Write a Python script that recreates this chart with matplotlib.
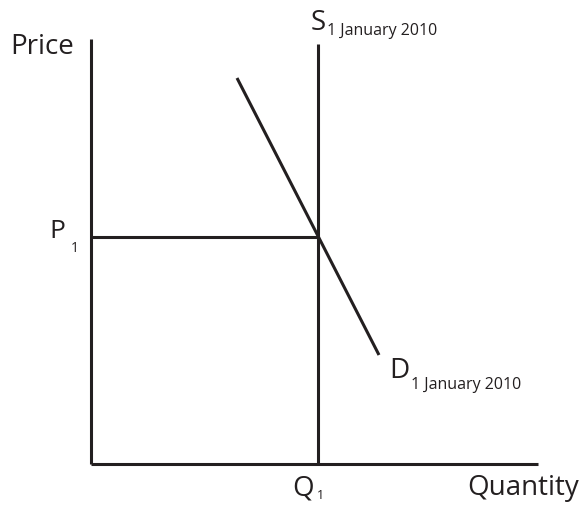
import matplotlib.pyplot as plt

plt.rcParams['font.family'] = ['Open Sans', 'DejaVu Sans']

# chart values (origin at the corner of the axes)
axis_top = 425
axis_right = 447
q1 = 227
p1 = 227
demand_q = [146, 288]
demand_p = [386, 109]
supply_top = 420
date_label = '1 January 2010'

ink = '#231f20'
lw = 2.2

fig = plt.figure(figsize=(5.88, 5.06), dpi=100)
ax = fig.add_axes([0, 0, 1, 1])
ax.set_xlim(-91, 497)
ax.set_ylim(-41, 465)
ax.axis('off')

# axes
ax.plot([0, 0], [0, axis_top], color=ink, lw=lw, solid_capstyle='butt')
ax.plot([0, axis_right], [0, 0], color=ink, lw=lw, solid_capstyle='butt')

# supply, demand and price line
ax.plot([q1, q1], [0, supply_top], color=ink, lw=lw, solid_capstyle='butt')
ax.plot(demand_q, demand_p, color=ink, lw=lw, solid_capstyle='butt')
ax.plot([0, q1], [p1, p1], color=ink, lw=lw, solid_capstyle='butt')

big = 20
small = 11.5
ax.text(-81, 418, 'Price', fontsize=big, color=ink, va='center', ha='left')
ax.text(-26, p1 + 6, 'P', fontsize=19, color=ink, va='center', ha='right')
ax.text(-20, p1 - 10, '1', fontsize=10, color=ink, va='center', ha='left')

ax.text(q1 - 7, supply_top + 22, 'S', fontsize=big, color=ink, va='center', ha='left')
ax.text(q1 + 9, supply_top + 14, date_label, fontsize=small, color=ink, va='center', ha='left')

ax.text(demand_q[1] + 10, demand_p[1] - 15, 'D', fontsize=big, color=ink, va='center', ha='left')
ax.text(demand_q[1] + 32, demand_p[1] - 29, date_label, fontsize=small, color=ink, va='center', ha='left')

ax.text(q1 - 26, -24, 'Q', fontsize=big, color=ink, va='center', ha='left')
ax.text(q1 - 1, -31, '1', fontsize=9, color=ink, va='center', ha='left')
ax.text(q1 + 149, -23, 'Quantity', fontsize=big, color=ink, va='center', ha='left')

fig.savefig('out.png', dpi=100)
